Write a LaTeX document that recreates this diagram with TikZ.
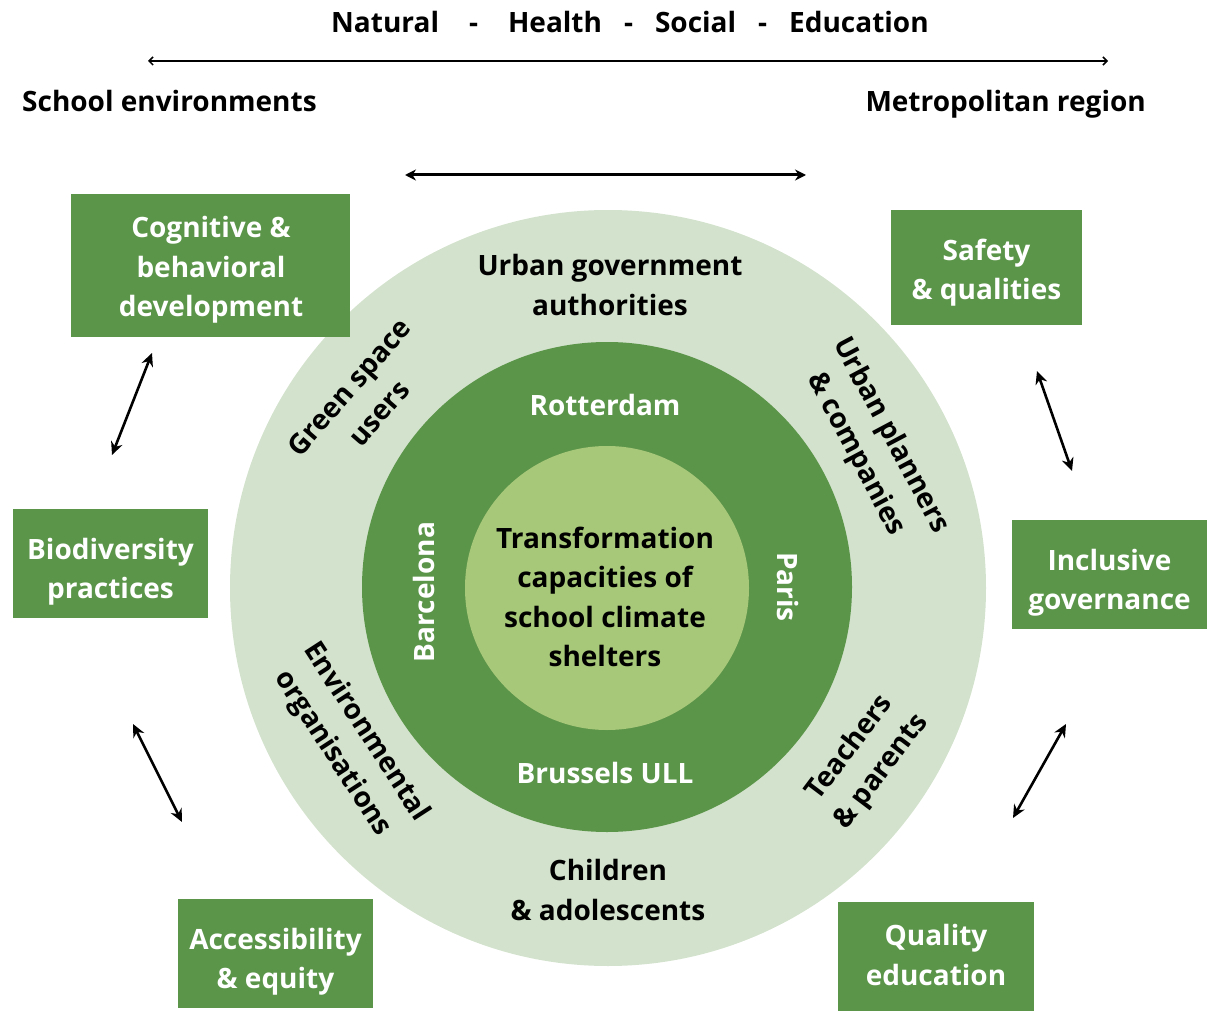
\documentclass[tikz,border=0pt]{standalone}
\usepackage{fontspec}
\setmainfont{Open Sans}
\usetikzlibrary{arrows.meta}
\definecolor{ringlight}{HTML}{D3E2CC}
\definecolor{ringdark}{HTML}{5B9549}
\definecolor{core}{HTML}{A7C779}
\tikzset{
  lbl/.style={font=\fontsize{28}{39.5}\selectfont\bfseries, align=center, inner sep=0pt},
  wlbl/.style={lbl, text=white},
  box/.style={fill=ringdark, draw=none, inner sep=0pt},
  dbl/.style={line width=2.6pt, {Stealth[length=13pt,width=12pt]}-{Stealth[length=13pt,width=12pt]}},
}
\begin{document}
\begin{tikzpicture}[x=1pt,y=-1pt]
\useasboundingbox (0,0) rectangle (1219,1011);
% top headings
\node[lbl] (topics) at (630,22) {Natural\hspace{30pt}-\hspace{30pt}Health\hspace{22pt}-\hspace{22pt}Social\hspace{22pt}-\hspace{22pt}Education};
\coordinate (tl) at (148,61);
\coordinate (tr) at (1108,61);
\draw[line width=1.5pt, {Straight Barb[length=4pt,width=8pt]}-{Straight Barb[length=4pt,width=8pt]}] (tl) -- (tr);
\node[lbl, anchor=base west] (school) at (22,112) {School environments};
\node[lbl, anchor=base east] (metro) at (1146,112) {Metropolitan region};
\coordinate (ml) at (405,175);
\coordinate (mr) at (806,175);
\draw[line width=3pt, {Stealth[length=11pt,width=11pt]}-{Stealth[length=11pt,width=11pt]}] (ml) -- (mr);
% circles
\fill[ringlight] (608,588) circle (378);
\fill[ringdark] (607,587) circle (245);
\fill[core] (607,588) circle (142);
% ring labels
\node[lbl] (urban) at (610,285) {Urban government\\authorities};
\node[lbl, rotate=49] (green) at (364,400) {Green space\\users};
\node[lbl, rotate=-62] (planners) at (873,445) {Urban planners\\\&~companies};
\node[lbl, rotate=-57] (env) at (349,743) {Environmental\\organisations};
\node[lbl, rotate=53] (teach) at (866,760) {Teachers\\\&~parents};
\node[lbl] (child) at (608,890) {Children\\\&~adolescents};
% city labels
\node[wlbl] (rot) at (605,405) {Rotterdam};
\node[wlbl, rotate=90] (bar) at (424,592) {Barcelona};
\node[wlbl, rotate=-90] (par) at (788,587) {Paris};
\node[wlbl] (bru) at (605,773) {Brussels ULL};
% centre
\node[lbl] (centre) at (605,597) {Transformation\\capacities of\\school climate\\shelters};
% boxes
\node[box, minimum width=279pt, minimum height=143pt] (cog) at (210.5,265.5) {};
\node[box, minimum width=191pt, minimum height=115pt] (safe) at (986.5,267.5) {};
\node[box, minimum width=195pt, minimum height=109pt] (bio) at (110.5,563.5) {};
\node[box, minimum width=195pt, minimum height=109pt] (incl) at (1109.5,574.5) {};
\node[box, minimum width=195pt, minimum height=109pt] (acc) at (275.5,953.5) {};
\node[box, minimum width=196pt, minimum height=109pt] (qual) at (936,956.5) {};
\node[wlbl] (cogt) at (211,270) {Cognitive \&\\behavioral\\development};
\node[wlbl] (safet) at (986.5,272.5) {Safety\\\&~qualities};
\node[wlbl] (biot) at (110.5,571.5) {Biodiversity\\practices};
\node[wlbl] (inclt) at (1109.5,582.5) {Inclusive\\governance};
\node[wlbl] (acct) at (275.5,961.5) {Accessibility\\\&~equity};
\node[wlbl] (qualt) at (936,955) {Quality\\education};
% arrows between boxes
\coordinate (a1) at (152,353); \coordinate (a2) at (112,455);
\coordinate (b1) at (1037,371); \coordinate (b2) at (1072,471);
\coordinate (c1) at (133,724); \coordinate (c2) at (182,822);
\coordinate (d1) at (1066,724); \coordinate (d2) at (1013,818);
\draw[dbl] (a1) -- (a2);
\draw[dbl] (b1) -- (b2);
\draw[dbl] (c1) -- (c2);
\draw[dbl] (d1) -- (d2);
\end{tikzpicture}
\end{document}
